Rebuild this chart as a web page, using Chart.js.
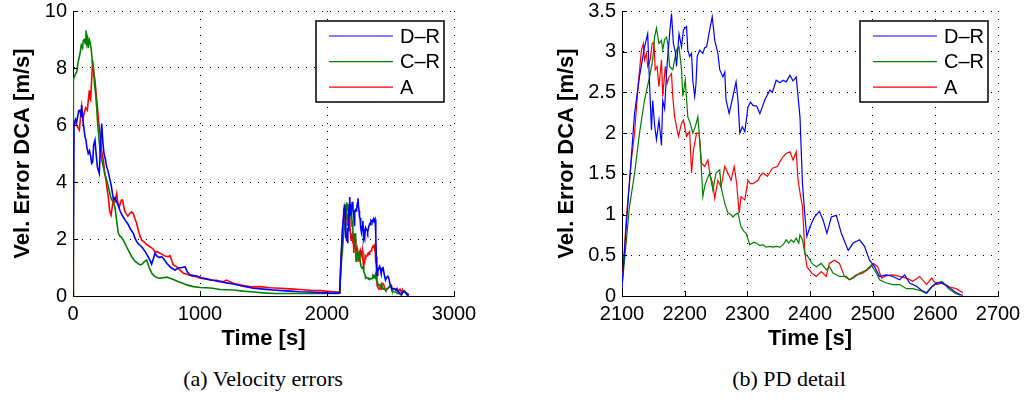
<!DOCTYPE html>
<html>
<head>
<meta charset="utf-8">
<script src="https://cdn.jsdelivr.net/npm/chart.js@4.4.1/dist/chart.umd.min.js"></script>
<style>
  html, body { margin: 0; padding: 0; background: #fff; width: 1028px; height: 401px; overflow: hidden; }
  canvas { position: absolute; top: 0; }
  #velAll { left: 0; }
  #velPd { left: 514px; }
  .cap { position: absolute; top: 366px; font-family: "Liberation Serif", "DejaVu Serif", serif; font-size: 22px;
         line-height: 26px; transform: translateX(-50%); white-space: nowrap; color: #000; }
</style>
</head>
<body>
<canvas id="velAll" width="514" height="360"></canvas>
<canvas id="velPd" width="514" height="360"></canvas>
<div class="cap" style="left:263px">(a) Velocity errors</div>
<div class="cap" style="left:789px">(b) PD detail</div>
<script>
// Velocity error (DCA) samples, [time s, error m/s]
const drSamples = [
  [0,0],[8,6.05],[20,6.2],[29,6.1],[45,6.5],[55,6.52],[63,6.3],[68,6.7],[80,6.1],[94,5.6],[102,5.47],[110,5.2],
  [120,5.0],[130,5.1],[139,4.9],[147,4.65],[155,4.7],[163,5.3],[173,5.47],[182,5.0],[192,4.53],[199,4.42],[207,4.3],
  [215,5.2],[226,6.05],[235,5.4],[244,5.0],[255,4.8],[265,4.53],[275,4.4],[286,4.18],[300,3.9],[318,3.4],[330,3.45],
  [344,3.3],[355,3.2],[370,3.0],[385,2.85],[410,2.67],[436,2.5],[452,2.35],[475,2.2],[490,2.0],[510,1.85],[541,1.73],
  [570,1.55],[606,1.26],[619,1.12],[632,1.3],[646,1.5],[662,1.4],[680,1.35],[698,1.38],[715,1.3],[738,1.15],[770,1.0],
  [803,0.91],[830,0.98],[860,1.0],[882,1.03],[900,0.85],[921,0.74],[950,0.72],[974,0.7],[1010,0.64],[1052,0.6],
  [1100,0.55],[1157,0.5],[1210,0.46],[1262,0.42],[1340,0.34],[1420,0.27],[1500,0.24],[1577,0.21],[1680,0.18],
  [1787,0.15],[1870,0.14],[1945,0.12],[2030,0.1],[2090,0.1],
  [2100,0.11],[2110,1.2],[2120,2.24],[2128,2.7],[2136,3.06],[2141,3.22],[2144,2.6],[2147,2.04],[2149,2.4],[2152,2.1],
  [2155,1.92],[2159,2.16],[2163,1.85],[2165,2.4],[2168,2.3],[2171,2.73],[2173,2.94],[2176,3.22],[2179,3.47],[2182,3.1],
  [2185,3.0],[2187,2.82],[2191,3.22],[2195,3.06],[2198,3.27],[2203,3.31],[2205,3.02],[2208,2.94],[2211,2.98],
  [2213,2.65],[2216,2.45],[2218,2.6],[2220,2.94],[2224,3.02],[2229,2.98],[2232,3.05],[2235,3.06],[2240,3.27],
  [2244,3.43],[2248,3.14],[2253,2.98],[2256,2.78],[2261,2.69],[2264,2.75],[2266,2.41],[2271,2.24],[2277,2.45],
  [2282,2.63],[2285,2.41],[2288,2.0],[2292,2.08],[2296,2.02],[2301,2.32],[2305,2.38],[2309,2.34],[2315,2.33],
  [2320,2.24],[2328,2.41],[2336,2.53],[2340,2.5],[2346,2.65],[2352,2.62],[2357,2.65],[2362,2.63],[2368,2.71],
  [2373,2.64],[2378,2.69],[2384,2.2],[2388,1.38],[2392,0.97],[2395,0.73],[2400,0.85],[2407,0.97],[2415,1.04],
  [2421,0.93],[2427,0.77],[2434,0.97],[2442,0.99],[2450,0.77],[2461,0.56],[2469,0.65],[2479,0.69],[2487,0.61],
  [2495,0.44],[2503,0.36],[2511,0.24],[2522,0.26],[2532,0.24],[2543,0.2],[2551,0.26],[2559,0.16],[2570,0.12],
  [2578,0.07],[2586,0.04],[2594,0.11],[2602,0.16],[2610,0.16],[2621,0.11],[2632,0.05],[2642,0.01],[2644,0.01]
];
const crSamples = [
  [0,0],[3,7.6],[15,7.75],[29,7.86],[40,8.2],[55,8.5],[65,8.8],[75,8.7],[81,8.97],[90,9.0],[97,8.85],[102,9.32],
  [108,8.9],[113,9.03],[120,8.7],[127,9.0],[134,8.91],[145,8.6],[152,8.2],[160,8.04],[170,7.4],[178,7.1],[186,6.64],
  [195,6.0],[205,5.5],[213,5.12],[225,4.8],[239,4.53],[250,4.3],[265,4.07],[280,3.8],[295,3.5],[305,3.37],[318,3.3],
  [331,3.1],[345,2.6],[357,2.2],[370,2.1],[383,2.05],[396,1.96],[409,1.85],[430,1.65],[449,1.5],[462,1.38],
  [488,1.22],[508,1.15],[528,1.09],[545,1.12],[560,1.2],[580,1.26],[600,1.0],[620,0.8],[646,0.68],[665,0.64],
  [685,0.62],[710,0.64],[738,0.66],[764,0.62],[790,0.58],[830,0.5],[869,0.44],[895,0.39],[948,0.33],[1000,0.3],
  [1052,0.29],[1100,0.27],[1157,0.23],[1210,0.22],[1262,0.21],[1340,0.17],[1420,0.14],[1500,0.11],[1577,0.09],
  [1680,0.09],[1787,0.09],[1900,0.09],[1997,0.09],[2090,0.09],
  [2100,0.11],[2112,1.1],[2120,1.5],[2128,2.0],[2136,2.41],[2144,2.69],[2149,2.9],[2152,3.18],[2155,3.29],
  [2159,3.1],[2163,3.14],[2165,3.02],[2168,3.15],[2171,3.18],[2173,3.1],[2176,2.82],[2181,2.78],[2184,2.9],
  [2187,3.02],[2191,3.06],[2195,2.78],[2197,2.45],[2201,2.65],[2205,2.2],[2209,2.12],[2213,2.0],[2217,2.08],
  [2221,2.2],[2224,1.92],[2227,1.51],[2229,1.22],[2232,1.35],[2235,1.42],[2240,1.51],[2245,1.3],[2250,1.51],
  [2256,1.55],[2258,1.34],[2264,1.14],[2269,1.02],[2274,1.0],[2277,0.97],[2281,1.0],[2285,1.02],[2290,0.85],
  [2294,0.8],[2298,0.77],[2304,0.63],[2310,0.66],[2314,0.65],[2320,0.62],[2325,0.63],[2330,0.6],[2336,0.61],
  [2341,0.6],[2346,0.61],[2352,0.6],[2357,0.63],[2362,0.69],[2366,0.65],[2370,0.69],[2374,0.66],[2378,0.71],
  [2382,0.65],[2384,0.75],[2388,0.69],[2392,0.52],[2397,0.48],[2403,0.4],[2410,0.36],[2418,0.4],[2426,0.32],
  [2431,0.36],[2437,0.28],[2447,0.24],[2458,0.24],[2463,0.2],[2469,0.22],[2479,0.28],[2490,0.32],[2498,0.38],
  [2506,0.28],[2511,0.2],[2522,0.16],[2532,0.14],[2543,0.14],[2554,0.09],[2564,0.09],[2575,0.07],[2586,0.03],
  [2594,0.11],[2602,0.16],[2611,0.18],[2621,0.09],[2632,0.03],[2640,0.01]
];
const aSamples = [
  [0,0],[3,6.0],[15,6.1],[29,6.0],[40,5.9],[50,5.82],[60,6.3],[68,6.64],[78,6.2],[87,6.4],[100,6.6],[113,6.52],
  [121,6.9],[129,7.22],[135,6.9],[139,6.87],[147,7.6],[155,8.27],[162,7.9],[173,7.57],[182,7.1],[192,6.64],
  [202,6.1],[213,5.7],[225,5.1],[239,4.77],[250,4.3],[260,4.07],[270,3.7],[278,3.48],[288,3.0],[300,2.84],
  [308,3.1],[318,3.36],[330,3.3],[344,3.6],[355,3.2],[365,3.13],[375,3.3],[383,3.37],[391,3.36],[405,3.0],
  [417,2.9],[432,2.8],[449,2.9],[462,2.95],[475,2.9],[488,2.7],[501,2.55],[515,2.3],[528,2.1],[541,1.96],
  [560,1.9],[580,1.8],[606,1.73],[630,1.65],[646,1.55],[665,1.55],[685,1.5],[705,1.45],[724,1.4],[751,1.38],
  [764,1.42],[790,1.09],[816,1.03],[843,0.91],[869,0.8],[900,0.76],[935,0.7],[974,0.68],[1000,0.62],[1040,0.6],
  [1079,0.56],[1130,0.55],[1184,0.5],[1210,0.56],[1260,0.45],[1315,0.39],[1394,0.32],[1472,0.33],[1550,0.29],
  [1630,0.27],[1710,0.25],[1787,0.23],[1870,0.2],[1945,0.19],[2030,0.16],[2090,0.14],
  [2100,0.11],[2107,0.97],[2115,1.67],[2120,2.0],[2126,2.61],[2131,3.02],[2134,3.1],[2136,2.9],[2139,2.98],
  [2141,2.82],[2145,2.9],[2148,3.1],[2151,3.12],[2153,2.78],[2156,2.82],[2159,2.57],[2163,2.9],[2165,2.45],
  [2169,2.82],[2172,2.61],[2175,2.69],[2179,2.73],[2181,2.45],[2184,2.2],[2187,2.08],[2190,1.96],[2195,2.12],
  [2198,2.16],[2203,1.96],[2208,2.02],[2211,1.51],[2214,1.79],[2219,2.0],[2223,2.0],[2227,1.63],[2232,1.59],
  [2237,1.67],[2241,1.47],[2245,1.38],[2248,1.2],[2253,1.42],[2258,1.34],[2264,1.59],[2269,1.51],[2274,1.42],
  [2279,1.59],[2283,1.38],[2287,1.02],[2290,1.22],[2296,1.18],[2301,1.42],[2305,1.38],[2309,1.38],[2317,1.42],
  [2321,1.48],[2325,1.51],[2332,1.47],[2336,1.52],[2340,1.57],[2348,1.59],[2352,1.65],[2357,1.71],[2362,1.75],
  [2368,1.77],[2373,1.67],[2378,1.77],[2381,1.42],[2385,1.22],[2388,1.1],[2392,0.52],[2395,0.36],[2403,0.28],
  [2410,0.24],[2418,0.3],[2426,0.24],[2431,0.4],[2439,0.44],[2447,0.4],[2455,0.24],[2463,0.2],[2474,0.26],
  [2484,0.28],[2495,0.34],[2501,0.4],[2508,0.36],[2514,0.22],[2522,0.25],[2532,0.26],[2543,0.24],[2554,0.22],
  [2564,0.18],[2575,0.24],[2586,0.14],[2594,0.22],[2602,0.14],[2612,0.16],[2623,0.11],[2633,0.09],[2644,0.04]
];

const seriesNames = ['D\u2013R', 'C\u2013R', 'A'];
const seriesColors = ['#0000ff', '#008000', '#ff0000'];
const seriesSamples = [drSamples, crSamples, aSamples];

const fullTimeTicks = [0, 1000, 2000, 3000];
const fullErrorTicks = [0, 2, 4, 6, 8, 10];
const pdTimeTicks = [2100, 2200, 2300, 2400, 2500, 2600, 2700];
const pdErrorTicks = [0, 0.5, 1, 1.5, 2, 2.5, 3, 3.5];

const SANS = '"Liberation Sans", Arial, Helvetica, sans-serif';
Chart.defaults.font.family = SANS;
Chart.defaults.color = '#000';

// Short inward tick marks on the left and bottom axes
const inwardTicks = {
  id: 'inwardTicks',
  afterDatasetsDraw(chart) {
    const { ctx, chartArea: a, scales: { x, y } } = chart;
    ctx.save();
    ctx.strokeStyle = '#000';
    ctx.lineWidth = 1;
    ctx.beginPath();
    x.ticks.forEach(t => {
      const px = Math.round(x.getPixelForValue(t.value)) + 0.5;
      ctx.moveTo(px, a.bottom); ctx.lineTo(px, a.bottom - 5);
    });
    y.ticks.forEach(t => {
      const py = Math.round(y.getPixelForValue(t.value)) + 0.5;
      ctx.moveTo(a.left, py); ctx.lineTo(a.left + 5, py);
    });
    ctx.stroke();
    ctx.restore();
  }
};

// Boxed legend in the upper right corner of the plot area
const boxLegend = {
  id: 'boxLegend',
  afterDraw(chart, args, opts) {
    const { ctx, chartArea: a } = chart;
    const w = 128, h = 81;
    const left = a.right - opts.inset - w;
    const top = a.top + 10;
    ctx.save();
    ctx.fillStyle = '#fff';
    ctx.fillRect(left, top, w, h);
    ctx.strokeStyle = '#000';
    ctx.lineWidth = 1.5;
    ctx.strokeRect(left, top, w, h);
    ctx.font = '20px ' + SANS;
    ctx.textBaseline = 'middle';
    chart.data.datasets.forEach((ds, i) => {
      const cy = top + 15 + i * 25.6;
      ctx.strokeStyle = ds.borderColor;
      ctx.lineWidth = 1.2;
      ctx.beginPath();
      ctx.moveTo(left + 13, cy);
      ctx.lineTo(left + 77, cy);
      ctx.stroke();
      ctx.fillStyle = '#000';
      ctx.fillText(ds.label, left + 84, cy + 1);
    });
    ctx.restore();
  }
};

function drawPanel(id, cfg) {
  const datasets = seriesSamples.map((samples, i) => ({
    label: seriesNames[i],
    data: samples.map(([t, v]) => ({ x: t, y: v })),
    borderColor: seriesColors[i],
    borderWidth: cfg.lineWidth,
    pointRadius: 0,
    tension: 0,
    fill: false
  }));
  const gridStyle = { color: '#000', lineWidth: 1, drawTicks: false };
  const borderStyle = { display: true, color: '#000', width: 1, dash: [1, 7] };
  return new Chart(document.getElementById(id), {
    type: 'line',
    data: { datasets },
    options: {
      responsive: false,
      animation: false,
      devicePixelRatio: 1,
      layout: { padding: { top: 11, right: cfg.padRight, left: 0, bottom: 0 } },
      plugins: { legend: { display: false }, tooltip: { enabled: false }, boxLegend: { inset: 10 } },
      scales: {
        x: {
          type: 'linear', min: cfg.xTicks[0], max: cfg.xTicks[cfg.xTicks.length - 1],
          afterBuildTicks: s => { s.ticks = cfg.xTicks.map(v => ({ value: v })); },
          afterFit: s => { s.height = 64; s.paddingLeft = 0; s.paddingRight = 0; },
          grid: gridStyle, border: borderStyle,
          ticks: { padding: 6, font: { size: 20 }, maxRotation: 0, callback: v => String(v) },
          title: { display: true, text: 'Time [s]', font: { size: 22, weight: 'bold' }, padding: { top: 0, bottom: 8 } }
        },
        y: {
          type: 'linear', min: 0, max: cfg.yTicks[cfg.yTicks.length - 1],
          afterBuildTicks: s => { s.ticks = cfg.yTicks.map(v => ({ value: v })); },
          afterFit: s => { s.width = cfg.yWidth; s.paddingTop = 0; s.paddingBottom = 0; },
          grid: gridStyle, border: borderStyle,
          ticks: { padding: 6, font: { size: 20 }, callback: v => String(v) },
          title: { display: true, text: 'Vel. Error DCA [m/s]', font: { size: 22, weight: 'bold' }, padding: { top: cfg.yTitlePad, bottom: 0 } }
        }
      }
    },
    plugins: [inwardTicks, boxLegend]
  });
}

drawPanel('velAll', { xTicks: fullTimeTicks, yTicks: fullErrorTicks, yWidth: 73, padRight: 60, yTitlePad: 10, lineWidth: 1.6 });
drawPanel('velPd', { xTicks: pdTimeTicks, yTicks: pdErrorTicks, yWidth: 108, padRight: 30, yTitlePad: 40, lineWidth: 1.2 });
</script>
</body>
</html>
